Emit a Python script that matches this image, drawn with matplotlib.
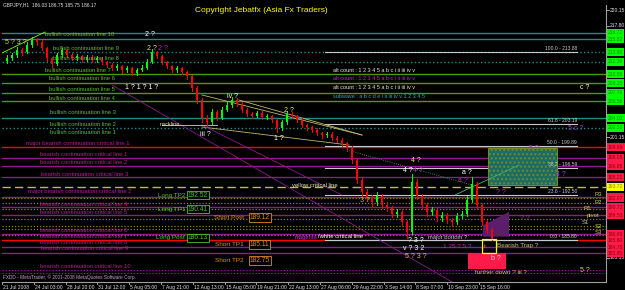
import matplotlib
matplotlib.use("Agg")
import matplotlib.pyplot as plt
from matplotlib.patches import Rectangle, Polygon

# ---------------- data ----------------
time_labels = ["21 Jul 2008", "24 Jul 03:00", "28 Jul 20:00", "31 Jul 12:00", "5 Aug 05:00",
               "7 Aug 21:00", "12 Aug 13:00", "15 Aug 05:00", "19 Aug 21:00", "22 Aug 13:00",
               "27 Aug 06:00", "29 Aug 22:00", "3 Sep 14:00", "8 Sep 07:00", "10 Sep 23:00",
               "15 Sep 16:00"]

first_open = 212.60
closes = [212.98, 213.43, 214.18, 213.88, 214.93, 215.67, 215.38, 214.48, 212.98, 212.09,
          213.43, 214.18, 213.43, 212.98, 213.28, 212.69, 213.13, 212.69, 212.98, 212.39,
          211.94, 211.49, 211.79, 211.19, 211.49, 210.74, 211.19, 211.49, 212.39, 213.88,
          213.28, 212.39, 211.79, 211.19, 211.49, 210.89, 210.30, 208.50, 206.71, 204.02,
          203.42, 204.92, 204.02, 205.22, 205.96, 206.71, 206.11, 205.22, 204.62, 204.32,
          204.77, 204.17, 204.32, 203.72, 202.53, 203.42, 204.62, 204.32, 203.72, 202.98,
          202.68, 202.23, 201.78, 201.48, 201.63, 201.03, 200.74, 200.29, 199.54, 197.75,
          194.76, 192.97, 192.07, 191.47, 192.37, 191.02, 190.58, 189.68, 189.98, 188.48,
          186.99, 194.46, 192.37, 191.02, 189.98, 190.28, 189.08, 189.53, 188.78, 188.48,
          189.38, 189.68, 191.77, 194.16, 191.02, 188.48, 187.29, 186.17]
highs = [213.40, 213.80, 214.60, 214.50, 215.30, 216.10, 215.90, 215.60, 214.70, 213.20,
         213.70, 214.50, 214.40, 213.70, 213.60, 213.50, 213.50, 213.40, 213.30, 213.20,
         212.60, 212.20, 212.10, 212.00, 211.80, 211.70, 211.50, 211.90, 212.80, 214.30,
         214.10, 213.50, 212.60, 212.00, 211.80, 211.70, 211.10, 210.50, 208.80, 207.00,
         204.40, 205.30, 205.20, 205.60, 206.40, 207.20, 207.00, 206.40, 205.50, 204.90,
         205.10, 205.00, 204.60, 204.50, 203.90, 203.70, 205.00, 204.90, 204.50, 204.00,
         203.20, 202.90, 202.50, 202.00, 202.00, 201.90, 201.30, 201.00, 200.50, 199.80,
         198.00, 195.10, 193.40, 192.50, 192.90, 192.60, 191.50, 190.90, 190.50, 190.30,
         188.80, 195.60, 194.90, 192.70, 191.40, 190.80, 190.60, 190.00, 189.90, 189.10,
         189.80, 190.20, 192.30, 195.20, 194.50, 191.40, 188.80, 187.60]
lows = [212.30, 212.70, 213.20, 213.50, 213.70, 214.70, 215.00, 214.20, 212.60, 211.70,
        211.90, 213.20, 213.10, 212.70, 212.70, 212.40, 212.50, 212.40, 212.40, 212.10,
        211.60, 211.20, 211.20, 210.80, 210.90, 210.40, 210.50, 211.00, 211.30, 212.20,
        213.00, 212.10, 211.50, 210.90, 210.90, 210.60, 209.90, 208.10, 206.30, 203.50,
        202.80, 203.20, 203.70, 203.80, 205.00, 205.70, 205.80, 204.90, 204.30, 204.00,
        204.10, 203.90, 203.90, 203.40, 202.00, 202.30, 203.20, 204.00, 203.40, 202.70,
        202.30, 201.90, 201.50, 201.10, 201.20, 200.70, 200.40, 199.90, 199.10, 197.30,
        194.30, 192.40, 191.60, 190.90, 191.10, 190.60, 190.10, 189.20, 189.30, 188.00,
        186.10, 186.70, 191.90, 190.50, 189.40, 189.60, 188.60, 188.70, 188.30, 187.90,
        188.20, 189.10, 189.40, 191.50, 190.60, 188.00, 186.80, 185.75]

# horizontal support / resistance lines
bull_prices = [216.72, 215.82, 213.88, 212.39, 210.59, 209.25, 207.76, 206.56, 204.02, 202.53]
bull_names = ["10", "9", "8", "7", "6", "5", "4", "3", "2", "1"]
bear_prices = [199.69, 198.05, 196.85, 195.21, 192.22, 190.72, 189.53, 186.69, 185.80, 184.75, 183.85]
yellow_critical = 193.72
pivot_prices = [192.07, 191.33, 190.43, 188.94, 187.89, 187.44, 186.55]
pivot_names = ["R3", "R2", "R1", "pivot", "S1", "S2", "S3"]
bottom_dotted = [181.31, 180.86]

fib_levels = ["100.0", "61.8", "50.0", "38.2", "23.6", "0.0"]
fib_prices = [213.88, 203.19, 199.89, 196.59, 192.50, 185.80]

long_names = ["Long TP2", "Long TP1", "Long Post"]
long_prices = [192.52, 190.41, 186.13]
short_names = ["Short Post", "Short TP1", "Short TP2"]
short_prices = [189.12, 185.11, 182.75]

axis_prices = [220.15, 217.80, 201.15, 183.15]

# trend lines: (x0, p0, x1, p1)
trend_x0 = [0, 200, 200, 237, 345, 453, 110, 200, 160]
trend_p0 = [213.73, 207.46, 202.68, 206.71, 199.24, 192.52, 208.95, 202.98, 202.98]
trend_x1 = [43, 360, 347, 360, 470, 517, 450, 340, 215]
trend_p1 = [216.87, 201.48, 199.99, 201.48, 194.01, 196.99, 179.53, 192.52, 202.98]
trend_col = ["#7CFC00", "#bdb76b", "#bdb76b", "#bdb76b", "#3cb371", "#3cb371", "#8a1a8a", "#8a1a8a", "#d0d0d0"]
trend_ls = ["-", "-", "-", "-", ":", "-", "-", "-", "-"]

# ---------------- figure ----------------
W, H = 625, 290
FONT = "Liberation Sans"
fig = plt.figure(figsize=(W / 100, H / 100), dpi=100)
fig.patch.set_facecolor("black")
L, R, T, B = 2, 606, 5, 282
ax = fig.add_axes([L / W, 1 - B / H, (R - L) / W, (B - T) / H])
ax.set_facecolor("black")
ax.set_xlim(0, R - L)
ax.set_ylim(179.53, 220.90)
ax.set_xticks([]); ax.set_yticks([])
for s in ["top", "left"]:
    ax.spines[s].set_visible(False)
for s in ["right", "bottom"]:
    ax.spines[s].set_color("#a0a0a0")
    ax.spines[s].set_linewidth(0.8)

XMAX = R - L

def hline(p, c, ls="-", lw=0.8, x0=0, x1=XMAX, z=1):
    ax.plot([x0, x1], [p, p], color=c, ls=ls, lw=lw, zorder=z)

teal = "#1f8b8b"
green = "#4e9a06"
mag = "#8e1a8e"
styles_b = [("-", teal), ("-", teal), (":", teal), (":", teal), ("-", green), ("-", green),
            ("-", green), ("-", green), ("-", teal), (":", teal)]
for p, (ls, c) in zip(bull_prices, styles_b):
    hline(p, c, ls, 1.0)
bear_cols = ["#ff0000", mag, mag, mag, mag, mag, mag, mag, "#ff0000", mag, mag]
for p, c in zip(bear_prices, bear_cols):
    hline(p, c, "-", 1.0)
hline(yellow_critical, "#bdb76b", (0, (6, 3)), 1.0)
for p in pivot_prices:
    hline(p, "#8b8b00", (0, (1, 1.5)), 0.9)
for p in bottom_dotted:
    hline(p, "#b000b0", (0, (1, 1.5)), 0.9)

for lev, p in zip(fib_levels, fib_prices):
    hline(p, "#c8c8c8", "-", 0.8, 323, 575, 2)
    ax.text(575, p + 0.15, f"{lev} - {p:.2f}", color="#c8c8c8", fontsize=3.6,
            family=FONT, ha="right", va="bottom", zorder=5)

ax.add_patch(Rectangle((486, 194.01), 69, 5.53, facecolor="#1d6a66", edgecolor="#6b8e23",
                       hatch="....", lw=0.8, zorder=2))
ax.add_patch(Polygon([(481, 186.3), (507, 186.3), (507, 190.0), (481, 188.0)],
                     closed=True, facecolor="#5a1e6a", edgecolor="none", zorder=2))
ax.add_patch(Rectangle((466, 181.47), 38, 2.39, facecolor="#ff1a4a", edgecolor="none", zorder=2))

for x0, p0, x1, p1, c, ls in zip(trend_x0, trend_p0, trend_x1, trend_p1, trend_col, trend_ls):
    ax.plot([x0, x1], [p0, p1], color=c, lw=0.6, ls=ls, zorder=3)

step = 5
opens = [first_open] + closes[:-1]
for i, (o, h, l, c) in enumerate(zip(opens, highs, lows, closes)):
    x = step * (i + 1)
    col = "#00ff00" if c >= o else "#ff0000"
    ax.plot([x, x], [l, h], color=col, lw=0.7, zorder=4)
    ax.add_patch(Rectangle((x - 1.0, min(o, c)), 2.0, max(abs(c - o), 0.05),
                           facecolor=col, edgecolor="none", zorder=4))

ax.add_patch(Rectangle((480, 183.86), 14, 2.09, facecolor="none", edgecolor="#ffff00",
                       lw=0.9, zorder=6))

def ftxt(x, y, s, c, fs=4.0, ha="left", va="center", **kw):
    fig.text(x / W, 1 - y / H, s, color=c, fontsize=fs, family=FONT, ha=ha, va=va, **kw)

ftxt(3, 5, "GBPJPY,H1  186.03 186.75 185.75 186.17", "#e0e0e0", 3.5)
ftxt(195, 11, "Copyright Jebatfx (Asia Fx Traders)", "#ffff00", 6.0)
ftxt(3, 277, "FXDD - MetaTrader, \u00a9 2001-2008 MetaQuotes Software Corp.", "#b0b0b0", 3.4)

bull_lab_pos = [(45, 35), (53, 49), (53, 58), (45, 70), (49, 79), (49, 89), (49, 98),
                (50, 113), (50, 124), (50, 132)]
for n, (x, y) in zip(bull_names, bull_lab_pos):
    ftxt(x, y, f"bullish continuation line {n}", "#5fbf2f", 4.2)

bear_labels = ["major bearish continuation critical line 1",
               "bearish continuation critical line 1", "bearish continuation critical line 2",
               "bearish continuation critical line 3",
               "major bearish continuation critical line 2",
               "bearish continuation critical line 4", "bearish continuation critical line 5",
               "bearish continuation critical line 6", "bearish continuation critical line 7",
               "bearish continuation critical line 8", "bearish continuation critical line 9",
               "bearish continuation critical line 10"]
bear_lab_pos = [(26, 143), (40, 155), (40, 163), (41, 175), (28, 192), (40, 204), (40, 212),
                (40, 230), (40, 237), (40, 242), (41, 249), (40, 266)]
for s, (x, y) in zip(bear_labels, bear_lab_pos):
    ftxt(x, y, s, "#c0169a", 4.2)

for n, p in zip(long_names, long_prices):
    ax.text(183, p, n, color="#4fbf2f", fontsize=4.6, family=FONT, ha="right", va="center", zorder=7)
    ax.text(186, p, f"{p:.2f}", color="#4fbf2f", fontsize=4.8, family=FONT, ha="left", va="center",
            zorder=7, bbox=dict(facecolor="black", edgecolor="#4fbf2f", pad=0.6, lw=0.6))
for n, p in zip(short_names, short_prices):
    ax.text(242, p, n, color="#e08a2a", fontsize=4.6, family=FONT, ha="right", va="center", zorder=7)
    ax.text(248, p, f"{p:.2f}", color="#e08a2a", fontsize=4.8, family=FONT, ha="left", va="center",
            zorder=7, bbox=dict(facecolor="black", edgecolor="#e08a2a", pad=0.6, lw=0.6))

ftxt(292, 186, "yellow critical line", "#e8e8c0", 4.2)
ftxt(295, 237, "magenta", "#e020e0", 4.2)
ftxt(318, 237, "/white critical line", "#ffffff", 4.2)
ftxt(428, 237, "major bottom ?", "#c8c8c8", 4.2)
ftxt(160, 125, "neckline", "#e8e8a0", 4.0)
ftxt(333, 71, "alt count : 1 2 3 4 5 a b c i ii iii iv v", "#e8e8e8", 4.0)
ftxt(333, 79, "alt count : 1 2 3 4 5 a b c i ii iii iv v", "#d020d0", 4.0)
ftxt(333, 88, "alt count : 1 2 3 4 5 a b c i ii iii iv v", "#e8e8e8", 4.0)
ftxt(333, 97, "subwave : a b c d e i ii iii iv v 1 2 3 4 5", "#20b0c0", 4.0)
ftxt(497, 246, "Bearish Trap ?", "#d8c070", 4.6)
ftxt(475, 272, "further down ? iii ?", "#d8c070", 4.6)
ftxt(580, 271, "5 ?", "#d8c070", 5.0)
ftxt(443, 246, "1 ?5 ? 5 ?", "#c020c0", 4.6)
ftxt(484, 246, "ii", "#ff3030", 4.6)
ftxt(491, 258, "b ?", "#ffd0d0", 5.0)

waves = [(5, 43, "5 ? 3 ?", "#d8d840"), (145, 35, "2 ?", "#ffffff"), (147, 48, "2 ?", "#e8e860"),
         (158, 48, "2 ?", "#c020c0"), (125, 88, "1 ? 1 ? 1 ?", "#ffffff"),
         (227, 97, "iv ?", "#ffffff"), (200, 134, "iii ?", "#ffffff"), (284, 110, "2 ?", "#e8e860"),
         (274, 138, "1 ?", "#ffffff"), (411, 160, "4 ?", "#e8e860"), (403, 170, "4 ?", "#ffffff"),
         (413, 170, "4 ?", "#c020c0"), (462, 172, "a ?", "#ffffff"), (458, 181, "a ?", "#c020c0"),
         (360, 200, "3 ?", "#b8b840"), (580, 88, "c ?", "#ffffff"), (568, 128, "5 c ?", "#a030c0"),
         (529, 149, "5 ?", "#a030c0"), (556, 174, "4 ?", "#a030c0"), (520, 218, "? ?", "#a030c0"),
         (496, 192, "? ?", "#a030c0"), (408, 240, "? 3 ?", "#ffffff"), (403, 248, "v ? 3 2", "#ffffff"),
         (405, 257, "5 ? 3 ?", "#d8c070")]
for x, y, s, c in waves:
    ftxt(x, y, s, c, 5.0)

pivot_lab_pos = [(598, 195), (598, 203), (587, 208), (593, 215), (585, 223), (598, 226), (598, 233)]
for n, (x, y) in zip(pivot_names, pivot_lab_pos):
    ftxt(x, y, n, "#c8c860", 4.2, ha="center")

tick_step = 31.8
for k, lab in enumerate(time_labels):
    x = k * tick_step
    ax.plot([x, x], [179.53, 179.53 - 0.35], color="#c0c0c0", lw=0.6, clip_on=False)
    ax.text(x + 1, 179.53 - 0.4, lab, color="#e0e0e0", fontsize=3.6, family=FONT,
            ha="left", va="top", clip_on=False)

for p in axis_prices:
    ax.plot([XMAX, XMAX + 3], [p, p], color="#c0c0c0", lw=0.6, clip_on=False)
    ax.text(XMAX + 4, p, f"{p:.2f}", color="#e0e0e0", fontsize=3.6, family=FONT,
            ha="left", va="center", clip_on=False)
for p in bull_prices:
    ax.text(XMAX + 2, p, f"{p:.2f}", color="#008800", fontsize=3.6, family=FONT, ha="left",
            va="center", clip_on=False,
            bbox=dict(facecolor="#00ff00", edgecolor="none", pad=0.8))
for p in bear_prices + pivot_prices[:1]:
    ax.text(XMAX + 2, p, f"{p:.2f}", color="#900000", fontsize=3.6, family=FONT, ha="left",
            va="center", clip_on=False,
            bbox=dict(facecolor="#ff1a4a", edgecolor="none", pad=0.8))
ax.text(XMAX + 2, yellow_critical, f"{yellow_critical:.2f}", color="#808000", fontsize=3.6,
        family=FONT, ha="left", va="center", clip_on=False,
        bbox=dict(facecolor="#ffff00", edgecolor="none", pad=0.8))

fig.savefig("out.png", dpi=100, facecolor="black")
